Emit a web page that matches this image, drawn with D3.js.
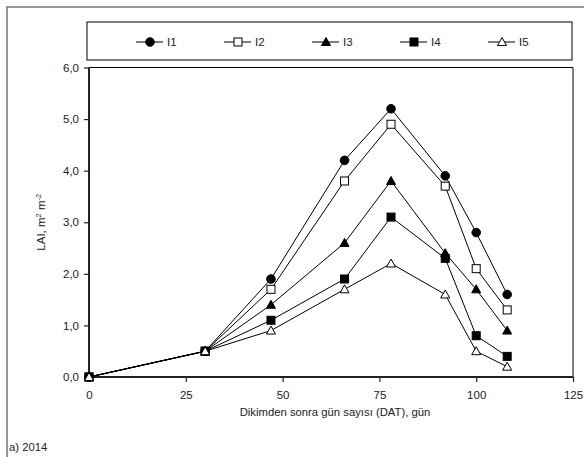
<!DOCTYPE html>
<html>
<head>
<meta charset="utf-8">
<script src="https://cdn.jsdelivr.net/npm/d3@7"></script>
<style>
  body { margin: 0; background: #fff; }
  text { font-family: "Liberation Sans", Arial, sans-serif; fill: #222; }
</style>
</head>
<body>
<div id="chart"></div>
<script>
// LAI vs days after transplanting, 2014

const days = [0, 30, 47, 66, 78, 92, 100, 108];
const i1 = [0, 0.5, 1.9, 4.2, 5.2, 3.9, 2.8, 1.6];
const i2 = [0, 0.5, 1.7, 3.8, 4.9, 3.7, 2.1, 1.3];
const i3 = [0, 0.5, 1.4, 2.6, 3.8, 2.4, 1.7, 0.9];
const i4 = [0, 0.5, 1.1, 1.9, 3.1, 2.3, 0.8, 0.4];
const i5 = [0, 0.5, 0.9, 1.7, 2.2, 1.6, 0.5, 0.2];
const seriesNames = ["I1", "I2", "I3", "I4", "I5"];
const xTicks = [0, 25, 50, 75, 100, 125];
const yTicks = [0, 1, 2, 3, 4, 5, 6];

const series = [
  { name: seriesNames[0], values: i1, shape: "circle", fill: "#000" },
  { name: seriesNames[1], values: i2, shape: "square", fill: "#fff" },
  { name: seriesNames[2], values: i3, shape: "triangle", fill: "#000" },
  { name: seriesNames[3], values: i4, shape: "square", fill: "#000" },
  { name: seriesNames[4], values: i5, shape: "triangle", fill: "#fff" }
];

const W = 584, H = 457;
const plot = { left: 89, right: 573, top: 67.5, bottom: 377 };

const svg = d3.select("#chart").append("svg")
  .attr("width", W)
  .attr("height", H);

// outer frame (only left and top visible in the picture)
svg.append("rect")
  .attr("x", 7).attr("y", 7)
  .attr("width", W + 20).attr("height", H + 20)
  .attr("fill", "none")
  .attr("stroke", "#777")
  .attr("stroke-width", 1.5);

const x = d3.scaleLinear().domain([0, 125]).range([plot.left, plot.right]);
const y = d3.scaleLinear().domain([0, 6]).range([plot.bottom, plot.top]);

// thin frame top/right
svg.append("path")
  .attr("d", `M${plot.left},${plot.top}H${plot.right}V${plot.bottom}`)
  .attr("fill", "none")
  .attr("stroke", "#000")
  .attr("stroke-width", 1);

const fmt = d => d3.format(".1f")(d).replace(".", ",");

const xAxis = svg.append("g")
  .attr("transform", `translate(0, ${plot.bottom})`)
  .call(d3.axisBottom(x).tickValues(xTicks).tickSize(5).tickPadding(9));
const yAxis = svg.append("g")
  .attr("transform", `translate(${plot.left}, 0)`)
  .call(d3.axisLeft(y).tickValues(yTicks).tickFormat(fmt).tickSize(5).tickPadding(5));

[xAxis, yAxis].forEach(a => {
  a.select(".domain").attr("stroke", "#222").attr("stroke-width", 2);
  a.selectAll(".tick line").attr("stroke", "#222").attr("stroke-width", 1.2);
  a.selectAll(".tick text")
    .attr("font-size", 11.5)
    .attr("font-family", "Liberation Sans, Arial, sans-serif")
    .attr("fill", "#222");
});
xAxis.select(".domain").attr("d", `M${plot.left},0H${plot.right}`);
yAxis.select(".domain").attr("d", `M0,${plot.bottom}V${plot.top}`);

// markers
function marker(g, shape, fill, cx, cy) {
  if (shape === "circle") {
    g.append("circle").attr("cx", cx).attr("cy", cy).attr("r", 4.3)
      .attr("fill", fill).attr("stroke", "#000").attr("stroke-width", 1);
  } else if (shape === "square") {
    g.append("rect").attr("x", cx - 4).attr("y", cy - 4)
      .attr("width", 8).attr("height", 8)
      .attr("fill", fill).attr("stroke", "#000").attr("stroke-width", 1);
  } else {
    g.append("path")
      .attr("d", `M${cx},${cy - 4.5}L${cx + 4.5},${cy + 3.5}L${cx - 4.5},${cy + 3.5}Z`)
      .attr("fill", fill).attr("stroke", "#000").attr("stroke-width", 1);
  }
}

const line = d3.line()
  .x((d, i) => x(days[i]))
  .y(d => y(d));

const lines = svg.append("g");
series.forEach(s => {
  lines.append("path")
    .attr("d", line(s.values))
    .attr("fill", "none")
    .attr("stroke", "#000")
    .attr("stroke-width", 1);
});
const marks = svg.append("g");
series.forEach(s => {
  s.values.forEach((v, i) => marker(marks, s.shape, s.fill, x(days[i]), y(v)));
});

// legend
const legend = svg.append("g");
legend.append("rect")
  .attr("x", 87).attr("y", 22)
  .attr("width", 485).attr("height", 38)
  .attr("fill", "#fff")
  .attr("stroke", "#000")
  .attr("stroke-width", 1);

const legendX = d3.scalePoint().domain(seriesNames).range([150, 502]);
series.forEach(s => {
  const cx = legendX(s.name), cy = 42;
  legend.append("line")
    .attr("x1", cx - 14).attr("x2", cx + 13)
    .attr("y1", cy).attr("y2", cy)
    .attr("stroke", "#000").attr("stroke-width", 1);
  marker(legend, s.shape, s.fill, cx, cy);
  legend.append("text")
    .attr("x", cx + 17).attr("y", cy + 4)
    .attr("font-size", 11.5)
    .text(s.name);
});

// titles
svg.append("text")
  .attr("x", (plot.left + plot.right) / 2 + 4)
  .attr("y", 416)
  .attr("text-anchor", "middle")
  .attr("font-size", 11.3)
  .text("Dikimden sonra gün sayısı (DAT), gün");

const yl = svg.append("text")
  .attr("transform", `translate(45, ${(plot.top + plot.bottom) / 2}) rotate(-90)`)
  .attr("text-anchor", "middle")
  .attr("font-size", 11.5);
yl.append("tspan").text("LAI, m");
yl.append("tspan").attr("dy", -4).attr("font-size", 7.5).text("2");
yl.append("tspan").attr("dy", 4).text(" m");
yl.append("tspan").attr("dy", -4).attr("font-size", 7.5).text("-2");

svg.append("text")
  .attr("x", 9).attr("y", 451)
  .attr("font-size", 11.3)
  .text("a) 2014");
</script>
</body>
</html>
